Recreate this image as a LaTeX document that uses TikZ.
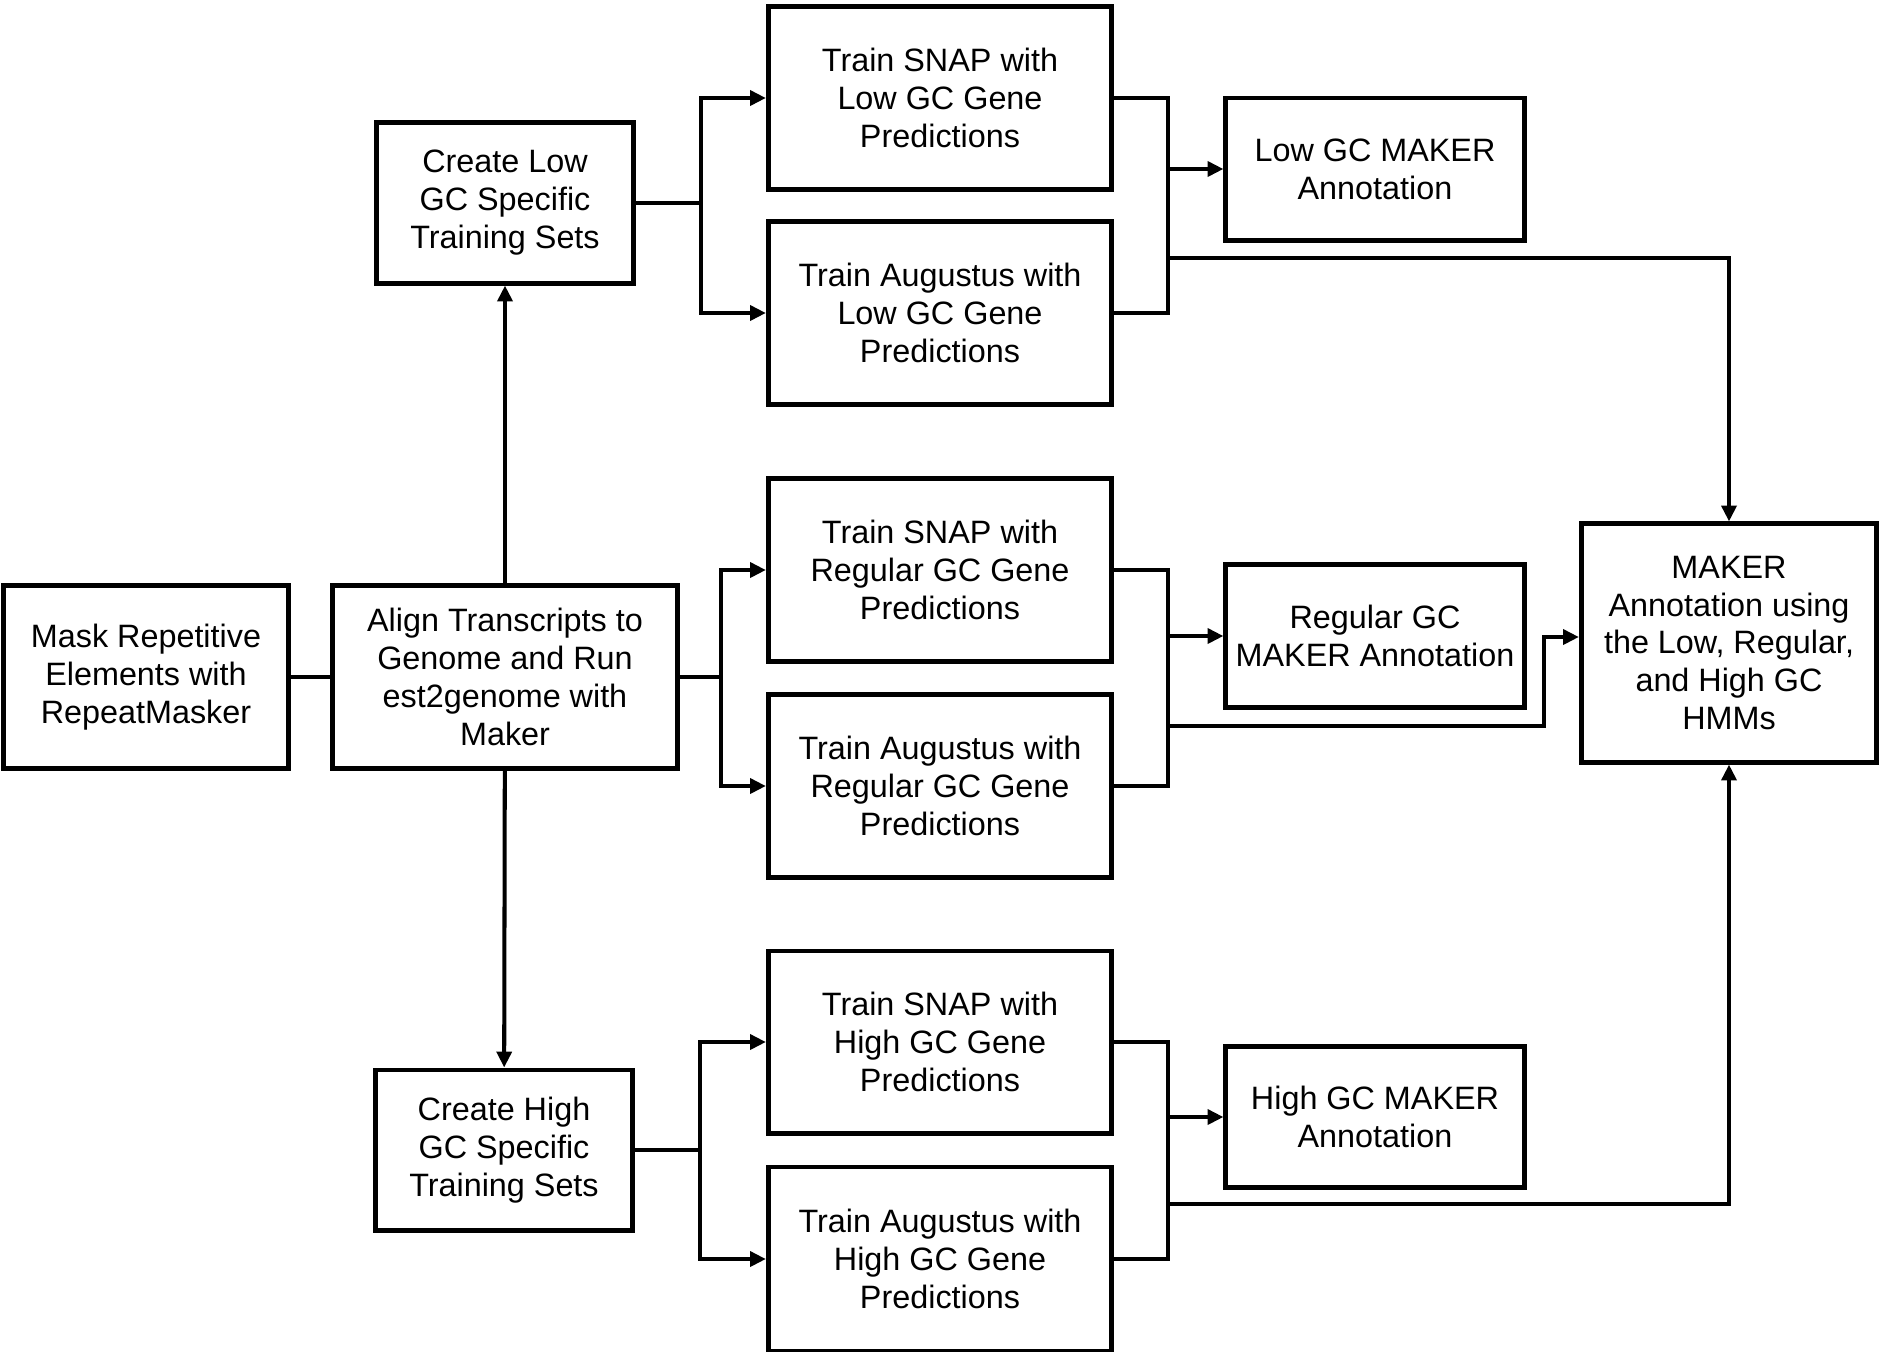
\documentclass[tikz,border=0pt]{standalone}
\usepackage{fontspec}
\setmainfont{Liberation Sans}
\usetikzlibrary{arrows.meta}

\begin{document}
\begin{tikzpicture}[x=0.01cm,y=-0.01cm,
    box/.style={draw,line width=1.4pt,rectangle,align=center,inner sep=0pt,
      font=\fontsize{9.2}{10.8}\selectfont},
    link/.style={line width=1.15pt},
    arr/.style={line width=1.15pt,-{Triangle[length=4.5pt,width=4.2pt]}}]
    \useasboundingbox (0,0) rectangle (1879,1351);
    % boxes
    \node[box,minimum width=2.84cm,minimum height=1.83cm] (mask) at (146,677) {Mask Repetitive\\Elements with\\RepeatMasker};
    \node[box,minimum width=3.44cm,minimum height=1.83cm] (align) at (505,677) {Align Transcripts to\\Genome and Run\\est2genome with\\Maker};
    \node[box,minimum width=2.56cm,minimum height=1.60cm] (lowset) at (505,203) {Create Low\\GC Specific\\Training Sets};
    \node[box,minimum width=2.56cm,minimum height=1.60cm] (highset) at (504,1150) {Create High\\GC Specific\\Training Sets};
    \node[box,minimum width=3.43cm,minimum height=1.82cm] (snaplow) at (940,98) {Train SNAP with\\Low GC Gene\\Predictions};
    \node[box,minimum width=3.43cm,minimum height=1.82cm] (auglow) at (940,313) {Train Augustus with\\Low GC Gene\\Predictions};
    \node[box,minimum width=3.43cm,minimum height=1.82cm] (snapreg) at (940,570) {Train SNAP with\\Regular GC Gene\\Predictions};
    \node[box,minimum width=3.43cm,minimum height=1.82cm] (augreg) at (940,786) {Train Augustus with\\Regular GC Gene\\Predictions};
    \node[box,minimum width=3.43cm,minimum height=1.82cm] (snaphigh) at (940,1042) {Train SNAP with\\High GC Gene\\Predictions};
    \node[box,minimum width=3.43cm,minimum height=1.84cm] (aughigh) at (940,1259) {Train Augustus with\\High GC Gene\\Predictions};
    \node[box,minimum width=2.98cm,minimum height=1.42cm] (lowmaker) at (1375,169) {Low GC MAKER\\Annotation};
    \node[box,minimum width=2.98cm,minimum height=1.43cm] (regmaker) at (1375,636) {Regular GC\\MAKER Annotation};
    \node[box,minimum width=2.98cm,minimum height=1.41cm] (highmaker) at (1375,1117) {High GC MAKER\\Annotation};
    \node[box,minimum width=2.95cm,minimum height=2.38cm] (final) at (1729,643) {MAKER\\Annotation using\\the Low, Regular,\\and High GC\\HMMs};
    % junctions
    \coordinate (jlow) at (701,203);
    \coordinate (jreg) at (721,677);
    \coordinate (jhigh) at (700,1150);
    \coordinate (mlow) at (1168,258);
    \coordinate (mreg) at (1168,726);
    \coordinate (mhigh) at (1168,1204);
    \coordinate (bend) at (1544,637);
    % left part
    \draw[link] (mask) -- (align);
    \draw[arr] (align) -- (lowset);
    \draw[arr] (align) -- (highset);
    \draw[link] (align) -- (jreg);
    \draw[link] (lowset) -- (jlow);
    \draw[link] (highset) -- (jhigh);
    \draw[arr] (jlow) |- (snaplow);
    \draw[arr] (jlow) |- (auglow);
    \draw[arr] (jreg) |- (snapreg);
    \draw[arr] (jreg) |- (augreg);
    \draw[arr] (jhigh) |- (snaphigh);
    \draw[arr] (jhigh) |- (aughigh);
    % right part
    \draw[link] (snaplow) -| (mlow |- auglow) -- (auglow);
    \draw[link] (snapreg) -| (mreg |- augreg) -- (augreg);
    \draw[link] (snaphigh) -| (mhigh |- aughigh) -- (aughigh);
    \draw[arr] (mlow |- lowmaker) -- (lowmaker);
    \draw[arr] (mreg |- regmaker) -- (regmaker);
    \draw[arr] (mhigh |- highmaker) -- (highmaker);
    \draw[arr] (mlow) -| (final);
    \draw[arr] (mreg) -| (bend) -- (final.west |- bend);
    \draw[arr] (mhigh) -| (final);
  \end{tikzpicture}
\end{document}
